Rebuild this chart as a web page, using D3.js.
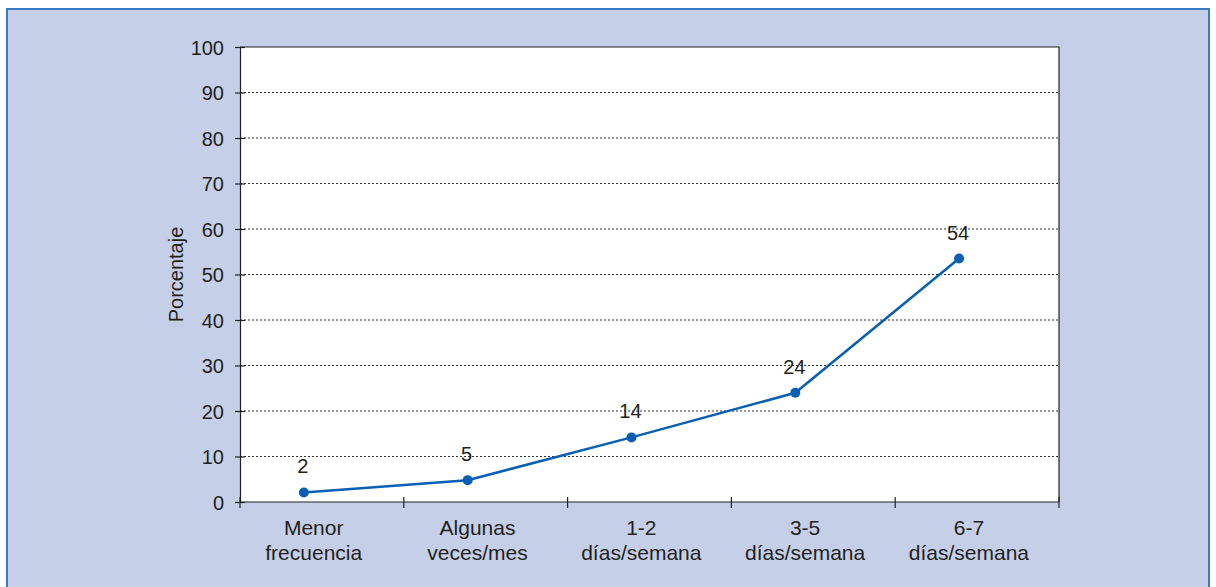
<!DOCTYPE html>
<html>
<head>
<meta charset="utf-8">
<script src="https://cdn.jsdelivr.net/npm/d3@7"></script>
<style>
    html, body { margin: 0; padding: 0; background: #fff; }
    svg { display: block; font-family: "Liberation Sans", Arial, sans-serif; }
    .grid line { stroke: #333; stroke-dasharray: 2,2; stroke-width: 1; }
    .axis path, .axis line { stroke: #222; stroke-width: 1.2; }
    .axis text { fill: #231f20; }
</style>
</head>
<body>
<div id="chartdiv"></div>
<script>
var categories = [
    ["Menor", "frecuencia"],
    ["Algunas", "veces/mes"],
    ["1-2", "días/semana"],
    ["3-5", "días/semana"],
    ["6-7", "días/semana"]
];
var values = [2.1, 4.8, 14.2, 24, 53.5];
var valueLabels = ["2", "5", "14", "24", "54"];
var yTicks = [0, 10, 20, 30, 40, 50, 60, 70, 80, 90, 100];

(function () {
    "use strict";

    var W = 1216, H = 587;
    var margin = {top: 47, right: 157, bottom: 85, left: 240};
    var width = W - margin.left - margin.right;
    var height = H - margin.top - margin.bottom;
    var font = "'Liberation Sans', Arial, sans-serif";

    var svg = d3.select("#chartdiv").append("svg")
        .attr("width", W)
        .attr("height", H);

    // outer panel
    svg.append("rect")
        .attr("x", 7).attr("y", 9)
        .attr("width", W - 14).attr("height", H)
        .attr("fill", "#c5cfe8")
        .attr("stroke", "#3a7bc4")
        .attr("stroke-width", 2);

    var g = svg.append("g")
        .attr("transform", "translate(" + margin.left + "," + margin.top + ")");

    var x = d3.scaleBand()
        .domain(d3.range(categories.length))
        .range([0, width])
        .paddingInner(0).paddingOuter(0);
    var y = d3.scaleLinear().domain([0, 100]).range([height, 0]);

    // points sit left of the band centre, as in the original
    function px(i) { return x(i) + x.bandwidth() * 0.39; }

    g.append("rect")
        .attr("width", width).attr("height", height)
        .attr("fill", "#fff");

    g.append("g")
        .attr("class", "grid")
        .selectAll("line")
        .data(yTicks.filter(function (t) { return t > 0 && t < 100; }))
        .join("line")
        .attr("x1", 0).attr("x2", width)
        .attr("y1", function (d) { return y(d); })
        .attr("y2", function (d) { return y(d); });

    // frame top and right
    g.append("path")
        .attr("d", "M0," + y(100) + "H" + width + "V" + height)
        .attr("fill", "none")
        .attr("stroke", "#222")
        .attr("stroke-width", 1.2);

    var yAxis = d3.axisLeft(y).tickValues(yTicks).tickSize(5).tickSizeOuter(0).tickPadding(11);
    var yg = g.append("g").attr("class", "axis").call(yAxis)
        .attr("font-family", font)
        .attr("font-size", 20);
    yg.selectAll(".tick line").attr("x2", 5).attr("x1", -5);
    yg.selectAll("text").attr("dy", "0.35em");

    // x axis: ticks at band edges crossing the axis
    var xg = g.append("g")
        .attr("class", "axis")
        .attr("font-family", font)
        .attr("font-size", 21)
        .attr("transform", "translate(0," + height + ")");
    xg.append("line")
        .attr("x1", 0).attr("x2", width);
    xg.selectAll(".xt")
        .data(d3.range(categories.length + 1))
        .join("line")
        .attr("class", "xt")
        .attr("x1", function (i) { return i < categories.length ? x(i) : width; })
        .attr("x2", function (i) { return i < categories.length ? x(i) : width; })
        .attr("y1", -5).attr("y2", 6);

    var lab = xg.selectAll(".xl")
        .data(categories)
        .join("text")
        .attr("class", "xl")
        .attr("text-anchor", "middle")
        .attr("transform", function (d, i) {
            return "translate(" + (x(i) + x.bandwidth() * 0.45) + ",0)";
        });
    lab.selectAll("tspan")
        .data(function (d) { return d; })
        .join("tspan")
        .attr("x", 0)
        .attr("y", function (d, j) { return 33 + j * 25; })
        .text(function (d) { return d; });

    // y title
    g.append("text")
        .attr("transform", "translate(" + (-64) + "," + (height / 2) + ") rotate(-90)")
        .attr("text-anchor", "middle")
        .attr("dy", "0.35em")
        .attr("font-family", font)
        .attr("font-size", 20)
        .attr("fill", "#231f20")
        .text("Porcentaje");

    var line = d3.line()
        .x(function (d, i) { return px(i); })
        .y(function (d) { return y(d); });

    g.append("path")
        .datum(values)
        .attr("d", line)
        .attr("fill", "none")
        .attr("stroke", "#0a5fb4")
        .attr("stroke-width", 2.5);

    g.selectAll(".dot")
        .data(values)
        .join("circle")
        .attr("class", "dot")
        .attr("cx", function (d, i) { return px(i); })
        .attr("cy", function (d) { return y(d); })
        .attr("r", 5)
        .attr("fill", "#0a5fb4");

    g.selectAll(".vl")
        .data(values)
        .join("text")
        .attr("class", "vl")
        .attr("x", function (d, i) { return px(i) - 1; })
        .attr("y", function (d) { return y(d) - 19; })
        .attr("text-anchor", "middle")
        .attr("font-family", font)
        .attr("font-size", 20)
        .attr("fill", "#231f20")
        .text(function (d, i) { return valueLabels[i]; });
}());
</script>
</body>
</html>
